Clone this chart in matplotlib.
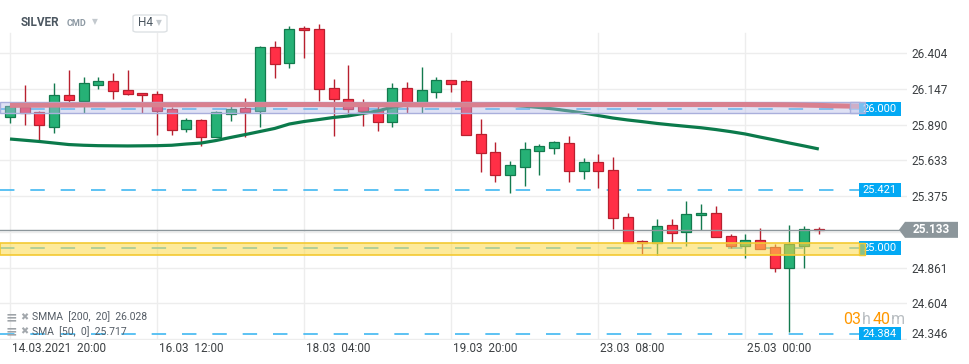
import numpy as np
import matplotlib.pyplot as plt
from matplotlib.patches import Rectangle, Polygon, FancyBboxPatch
from matplotlib.transforms import ScaledTranslation
from matplotlib.colors import to_rgba

plt.rcParams['font.family'] = ['Roboto', 'DejaVu Sans']

# SILVER H4 candles, first bar 14.03.2021 20:00
opens = [25.943, 26.015, 25.978, 25.877, 26.102, 26.063, 26.179, 26.202, 26.138, 26.116,
         26.110, 26.002, 25.857, 25.922, 25.804, 25.967, 26.007, 25.992, 26.452, 26.332,
         26.586, 26.577, 26.152, 26.073, 26.039, 25.998, 25.912, 26.152, 26.051, 26.123,
         26.210, 26.202, 25.821, 25.691, 25.526, 25.588, 25.703, 25.720, 25.758, 25.554,
         25.619, 25.562, 25.223, 25.050, 25.038, 25.166, 25.115, 25.238, 25.252, 25.089,
         25.019, 25.058, 25.007, 24.856, 25.019, 25.137]
highs = [26.032, 26.176, 25.992, 26.190, 26.284, 26.233, 26.235, 26.262, 26.284, 26.116,
         26.134, 26.015, 25.936, 25.931, 25.989, 26.050, 26.080, 26.457, 26.493, 26.601,
         26.601, 26.615, 26.219, 26.320, 26.074, 26.037, 26.190, 26.199, 26.304, 26.233,
         26.210, 26.212, 25.929, 25.765, 25.631, 25.765, 25.751, 25.770, 25.809, 25.650,
         25.679, 25.657, 25.254, 25.060, 25.211, 25.211, 25.341, 25.319, 25.305, 25.103,
         25.103, 25.144, 25.029, 25.168, 25.161, 25.151]
lows = [25.900, 25.890, 25.782, 25.832, 26.046, 25.974, 26.148, 26.075, 26.104, 25.974,
        25.818, 25.818, 25.840, 25.738, 25.801, 25.913, 25.798, 25.876, 26.228, 26.296,
        26.372, 26.061, 25.811, 25.963, 25.882, 25.845, 25.876, 25.976, 25.976, 26.080,
        26.123, 25.814, 25.552, 25.480, 25.396, 25.451, 25.530, 25.681, 25.480, 25.501,
        25.436, 25.141, 25.038, 24.959, 24.954, 25.038, 25.019, 25.132, 25.079, 25.000,
        24.932, 24.997, 24.827, 24.395, 24.856, 25.105]
closes = [26.025, 25.974, 25.886, 26.102, 26.071, 26.188, 26.203, 26.136, 26.109, 26.102,
          25.987, 25.855, 25.922, 25.804, 25.984, 26.001, 25.984, 26.447, 26.325, 26.577,
          26.570, 26.145, 26.073, 26.005, 25.991, 25.912, 26.152, 26.051, 26.138, 26.210,
          26.181, 25.814, 25.686, 25.526, 25.598, 25.713, 25.734, 25.765, 25.554, 25.619,
          25.554, 25.216, 25.038, 25.036, 25.158, 25.110, 25.245, 25.252, 25.079, 25.019,
          25.058, 24.997, 24.856, 25.029, 25.137, 25.133]

sma50 = [25.787, 25.778, 25.769, 25.758, 25.747, 25.742, 25.739, 25.738, 25.737, 25.738,
         25.739, 25.742, 25.751, 25.758, 25.776, 25.798, 25.819, 25.841, 25.863, 25.895,
         25.913, 25.927, 25.942, 25.953, 25.971, 25.989, 26.017, 26.033, 26.037, 26.038,
         26.038, 26.037, 26.035, 26.033, 26.030, 26.023, 26.014, 26.003, 25.989, 25.974,
         25.956, 25.938, 25.924, 25.912, 25.899, 25.888, 25.878, 25.868, 25.855, 25.840,
         25.823, 25.801, 25.780, 25.758, 25.737, 25.715]

# smma is shifted 20 bars forward, so it runs past the last candle
smma200 = [26.029, 26.030, 26.030, 26.031, 26.031, 26.032, 26.032, 26.032, 26.033, 26.033,
           26.033, 26.033, 26.033, 26.034, 26.034, 26.034, 26.034, 26.034, 26.035, 26.035,
           26.035, 26.035, 26.034, 26.034, 26.034, 26.033, 26.033, 26.033, 26.033, 26.033,
           26.033, 26.033, 26.033, 26.034, 26.034, 26.034, 26.034, 26.035, 26.035, 26.035,
           26.035, 26.035, 26.035, 26.035, 26.035, 26.035, 26.035, 26.035, 26.035, 26.035,
           26.035, 26.034, 26.034, 26.033, 26.031, 26.029, 26.026, 26.024, 26.022]

x_label_pos = [0, 10, 20, 30, 40, 50]
x_labels = ["14.03.2021  20:00", "16.03  12:00", "18.03  04:00",
            "19.03  20:00", "23.03  08:00", "25.03  00:00"]
y_ticks = [26.404, 26.147, 25.890, 25.633, 25.375, 25.118, 24.861, 24.604, 24.346]
levels = [26.000, 25.421, 25.000, 24.384]
zone_blue = (25.972, 26.056)
zone_yellow = (24.952, 25.036)
last_price = 25.133
smma_label = "SMMA  [200,  20]  26.028"
sma_label = "SMA  [50,  0]  25.717"

W, H = 970, 364
STEP = 14.706       # px per bar
PPU = 138.9         # px per price unit


def xi(px):
    return (px - 10) / STEP


def yp(py):
    return 26.404 - (py - 53.3) / PPU


def fpos(px, py):
    return px / W, 1 - py / H


fig = plt.figure(figsize=(9.7, 3.64), dpi=100)
ax_bottom = 339.5
ax = fig.add_axes([0, (H - ax_bottom) / H, 907 / W, ax_bottom / H])
ax.set_xlim(xi(0), xi(907))
ax.set_ylim(yp(ax_bottom), yp(0))
for s in ax.spines.values():
    s.set_visible(False)

grid_c = '#ededed'
ax.yaxis.tick_right()
ax.set_yticks(y_ticks, [f"{v:.3f}" if v != 25.118 else "" for v in y_ticks])
ax.yaxis.grid(True, color=grid_c, lw=1, zorder=0)
ax.set_axisbelow(True)
ax.tick_params(axis='y', length=0, pad=3, labelsize=8.5, labelcolor='#3c4043')
ax.set_xticks(x_label_pos, x_labels)
ax.tick_params(axis='x', length=0, pad=1.5, labelsize=8.5, labelcolor='#3c4043')
for lbl in ax.get_xticklabels():
    lbl.set_ha('left')
    lbl.set_transform(lbl.get_transform() + ScaledTranslation(0.02, 0, fig.dpi_scale_trans))
lbl = ax.get_yticklabels()[-1]
lbl.set_transform(lbl.get_transform() + ScaledTranslation(0, 0.06, fig.dpi_scale_trans))
for p in x_label_pos:
    ax.axvline(p, ymin=0, ymax=(ax_bottom - 33) / ax_bottom, color=grid_c, lw=1, zorder=0.5)

# level lines
x_end = xi(859)
for lv in levels:
    ax.plot([xi(0), x_end], [lv, lv], color='#4fbdf2', lw=1.3, dashes=(8.0, 8.8), zorder=1)
ax.plot([xi(0), xi(899)], [last_price, last_price], color='#8c969b', lw=1, zorder=2.6)

# candles
idx = np.arange(len(opens))
o = np.array(opens)
c = np.array(closes)
up = c >= o
up_face, up_edge = '#26b176', '#137a4e'
dn_face, dn_edge = '#ff2f46', '#b8202f'
edges = np.where(up, up_edge, dn_edge)
faces = np.where(up, up_face, dn_face)
ax.vlines(idx, lows, highs, colors=edges, lw=1, zorder=2)
ax.bar(idx, np.maximum(np.abs(c - o), 0.005), bottom=np.minimum(o, c), width=0.68,
       color=faces, edgecolor=edges, linewidth=0.9, zorder=2.1)

ax.plot(idx, sma50, color='#0b7a4b', lw=2.3, zorder=2.5, solid_capstyle='butt')

# zones
x0, x1 = xi(0), xi(860)
ax.add_patch(Rectangle((x0, zone_blue[0]), x1 - x0, zone_blue[1] - zone_blue[0],
                       facecolor=to_rgba('#b4b9e6', 0.42), edgecolor='#a9afdc', lw=1, zorder=3))
ax.add_patch(Rectangle((x0, zone_yellow[0]), x1 - x0, zone_yellow[1] - zone_yellow[0],
                       facecolor=to_rgba('#fcd94a', 0.55), edgecolor='#f3c932', lw=1.2, zorder=3))

ax.plot(np.arange(len(smma200)), smma200, color='#d9808f', lw=3.6, zorder=3.5,
        solid_capstyle='butt')

# level tags
bh = 7 / PPU
for lv in levels:
    ax.add_patch(Rectangle((xi(859), lv - bh), xi(901) - xi(859), 2 * bh,
                           facecolor='#03a9f4', edgecolor='none', zorder=5))
    ax.text(xi(880), lv, f"{lv:.3f}", color='white', fontsize=8, ha='center',
            va='center', zorder=6, clip_on=True)

# zone handles at the right end
ax.add_patch(Rectangle((xi(850), zone_blue[0]), xi(865) - xi(850), zone_blue[1] - zone_blue[0],
                       facecolor=to_rgba('#c9cdee', 0.6), edgecolor='#a9afdc', lw=1, zorder=6))
ax.add_patch(Rectangle((xi(859), zone_yellow[0]), xi(865) - xi(859), zone_yellow[1] - zone_yellow[0],
                       facecolor=to_rgba('#9cc47a', 0.9), edgecolor='#f3c932', lw=1, zorder=6))

# last price tag
th = 8 / PPU
tag = Polygon([(xi(899), last_price), (xi(905), last_price + th), (xi(958), last_price + th),
               (xi(958), last_price - th), (xi(905), last_price - th)],
              closed=True, facecolor='#8c969b', edgecolor='none', zorder=6, clip_on=False)
ax.add_patch(tag)
ax.text(xi(931), last_price, f"{last_price:.3f}", color='white', fontsize=8.5,
        fontweight='bold', ha='center', va='center', zorder=7, clip_on=False)

# header
fig.text(*fpos(21, 23), "SILVER", fontsize=8.5, fontweight='bold', color='#4b5660', va='center')
fig.text(*fpos(67, 24), "CMD", fontsize=6.5, fontweight='bold', color='#8e9aa4', va='center')
fig.text(*fpos(92, 22), "▼", fontsize=5.5, color='#c3c9ce', va='center')
fig.patches.append(FancyBboxPatch(fpos(133, 32), 34 / W, 17 / H,
                                  boxstyle='round,pad=0,rounding_size=0.004',
                                  transform=fig.transFigure, facecolor='white',
                                  edgecolor='#dde1e4', lw=1))
fig.text(*fpos(138, 23), "H4", fontsize=8.5, color='#4b5660', va='center')
fig.text(*fpos(156, 23), "▼", fontsize=5.5, color='#c3c9ce', va='center')

# indicator legend
for row_y, label in [(317, smma_label), (331.5, sma_label)]:
    fig.text(*fpos(6, row_y), "≡", fontsize=10, fontweight='bold', color='#9ea3a8', va='center')
    fig.text(*fpos(20, row_y), "✖", fontsize=7, color='#a3a8ad', va='center')
    fig.text(*fpos(32, row_y), label, fontsize=7.5, color='#555d66', va='center')

# bar countdown
for px, txt, col in [(843, "03", '#ff9800'), (862, "h", '#b9bec2'),
                     (873, "40", '#ff9800'), (891, "m", '#b9bec2')]:
    fig.text(*fpos(px, 319), txt, fontsize=11.5, color=col, va='center')

fig.savefig("out.png", dpi=100)
